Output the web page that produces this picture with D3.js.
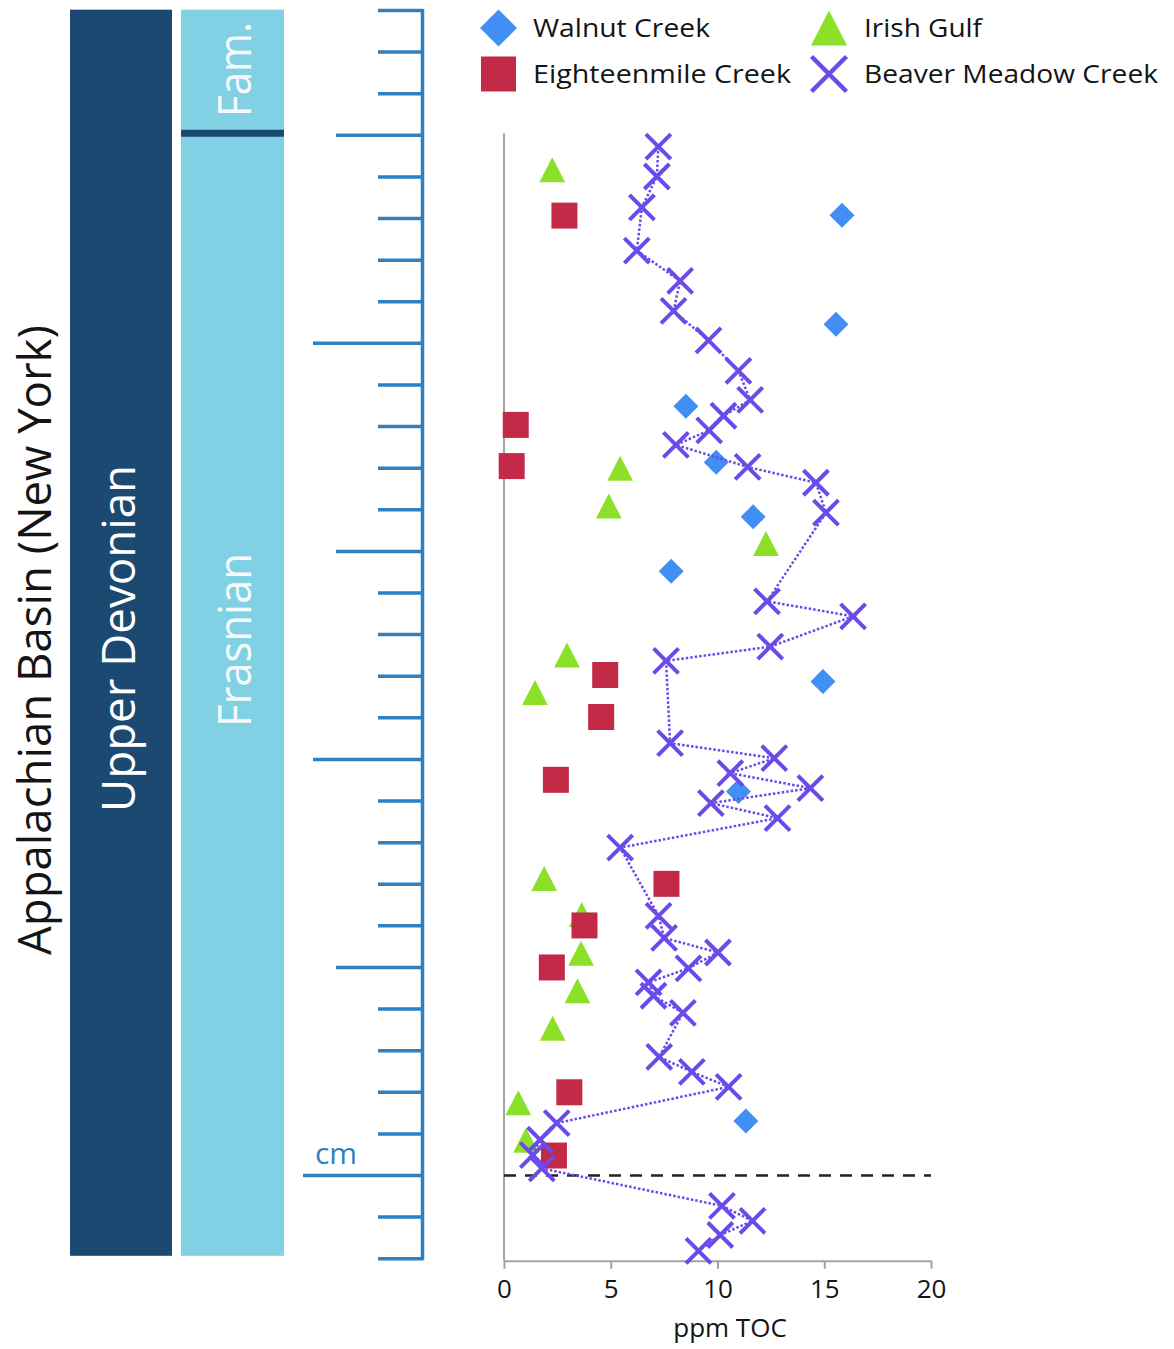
<!DOCTYPE html>
<html>
<head>
<meta charset="utf-8">
<script src="https://cdn.jsdelivr.net/npm/d3@7"></script>
<style>
  html, body { margin: 0; padding: 0; background: #fff; }
  svg { display: block; font-family: "Open Sans", "Noto Sans", sans-serif; }
</style>
</head>
<body>
<svg id="chart" width="1174" height="1349"></svg>
<script>
// ---- Data -------------------------------------------------------------
// Horizontal axis (ppm TOC)
const tocTicks = [0, 5, 10, 15, 20];
const tocLabel = "ppm TOC";

// Stratigraphic height (cm) above the datum (dashed line)
const rulerTicks = d3.range(-2, 29);

// Walnut Creek
const walnutToc    = [15.83, 15.55, 8.52, 9.94, 11.67, 7.83, 14.94, 10.98, 11.33];
const walnutHeight = [23.08, 20.46, 18.49, 17.14, 15.83, 14.52, 11.87, 9.23, 1.31];

// Eighteenmile Creek
const eighteenToc    = [2.83, 0.55, 0.36, 4.74, 4.55, 2.43, 7.61, 3.77, 2.24, 3.06, 2.34];
const eighteenHeight = [23.07, 18.04, 17.05, 12.03, 11.02, 9.51, 7.01, 6.01, 5.00, 2.00, 0.48];

// Irish Gulf
const irishToc    = [2.26, 5.44, 4.91, 12.27, 2.95, 1.45, 1.88, 3.64, 3.61, 3.44, 2.28, 0.67, 1.03];
const irishHeight = [24.17, 17.00, 16.09, 15.19, 12.51, 11.61, 7.14, 6.27, 5.34, 4.44, 3.54, 1.75, 0.85];

// Beaver Meadow Creek (top to bottom, joined by a dotted line)
const beaverToc = [7.23, 7.16, 6.46, 6.22, 8.25, 7.94, 9.58, 10.98, 11.53, 10.28, 9.61, 8.05,
                   11.41, 14.61, 15.08, 12.32, 16.35, 12.47, 7.59, 7.78, 12.66, 10.60, 14.35,
                   9.69, 12.81, 5.44, 7.24, 7.50, 10.02, 8.64, 6.77, 7.00, 8.38, 7.27, 8.80,
                   10.52, 2.47, 1.69, 1.35, 1.77, 10.21, 11.64, 10.13, 9.11];
const beaverHeight = [24.73, 24.01, 23.27, 22.23, 21.50, 20.78, 20.07, 19.34, 18.64, 18.26, 17.91, 17.56,
                      17.03, 16.65, 15.93, 13.80, 13.44, 12.71, 12.37, 10.39, 10.03, 9.67, 9.31,
                      8.95, 8.59, 7.88, 6.24, 5.71, 5.36, 4.98, 4.64, 4.32, 3.91, 2.85, 2.49,
                      2.13, 1.26, 0.86, 0.49, 0.17, -0.73, -1.09, -1.43, -1.81];

const seriesNames = ["Walnut Creek", "Eighteenmile Creek", "Irish Gulf", "Beaver Meadow Creek"];

// Chronostratigraphic columns
const columnTitle = "Appalachian Basin (New York)";
const seriesUnit  = "Upper Devonian";
const stageUpper  = "Fam.";
const stageLower  = "Frasnian";
const stageBoundary = 25;   // Famennian / Frasnian boundary height
const heightUnit = "cm";

// ---- Styling ----------------------------------------------------------
const C = {
  navy: "#1c4971",
  sky: "#82d0e3",
  ruler: "#2f80c0",
  axis: "#a3a3a3",
  text: "#141414",
  walnut: "#418ff4",
  eighteen: "#c22a48",
  irish: "#8ce02a",
  beaver: "#6a4bea"
};

const svg = d3.select("#chart");

const x = d3.scaleLinear().domain([0, 20]).range([504, 931]);
const y = d3.scaleLinear().domain([0, 28]).range([1175.5, 10.5]);
const axisBottomY = y(-2.05);

const zip = (a, b) => a.map((v, i) => ({ toc: v, h: b[i] }));
const walnut = zip(walnutToc, walnutHeight);
const eighteen = zip(eighteenToc, eighteenHeight);
const irish = zip(irishToc, irishHeight);
const beaver = zip(beaverToc, beaverHeight);

// marker shapes (centred on 0,0)
const shapes = {
  diamond: s => `M0,${-s}L${s},0L0,${s}L${-s},0Z`,
  square: s => `M${-s},${-s}H${s}V${s}H${-s}Z`,
  triangle: s => `M0,${-s}L${s * 1.03},${s}L${-s * 1.03},${s}Z`,
  cross: s => `M${-s},${-s}L${s},${s}M${s},${-s}L${-s},${s}`
};

// ---- Left columns -----------------------------------------------------
const colTop = y(28.02), colBottom = y(-1.93);
svg.append("rect").attr("x", 70).attr("y", colTop).attr("width", 102)
  .attr("height", colBottom - colTop).attr("fill", C.navy);
svg.append("rect").attr("x", 181).attr("y", colTop).attr("width", 103)
  .attr("height", colBottom - colTop).attr("fill", C.sky);
svg.append("line").attr("x1", 181).attr("x2", 284)
  .attr("y1", y(stageBoundary) - 2).attr("y2", y(stageBoundary) - 2)
  .attr("stroke", C.navy).attr("stroke-width", 7);

function vText(txt, bx, cy, size, len, fill) {
  svg.append("text")
    .attr("transform", `translate(${bx},${cy}) rotate(-90)`)
    .attr("text-anchor", "middle")
    .attr("font-size", size)
    .attr("textLength", len)
    .attr("lengthAdjust", "spacingAndGlyphs")
    .attr("fill", fill)
    .text(txt);
}
vText(columnTitle, 51, 640, 46, 630, C.text);
vText(seriesUnit, 135, 638.5, 46, 347, "#ffffff");
vText(stageLower, 251, 640, 46, 174, "#f4fbfd");
vText(stageUpper, 251, 69.5, 46, 95, "#f4fbfd");

// ---- Height ruler -----------------------------------------------------
const rulerX = 422.5;
const ruler = svg.append("g").attr("stroke", C.ruler).attr("stroke-width", 3.5);
ruler.append("line").attr("x1", rulerX).attr("x2", rulerX)
  .attr("y1", y(28) - 1.5).attr("y2", y(-2) + 1.5);
ruler.selectAll("line.tick").data(rulerTicks).join("line")
  .attr("class", "tick")
  .attr("x1", d => d === 0 ? 303 : d % 10 === 0 ? 313 : d % 5 === 0 ? 336 : 378)
  .attr("x2", rulerX)
  .attr("y1", d => y(d)).attr("y2", d => y(d));
svg.append("text").attr("x", 315).attr("y", y(0) - 12)
  .attr("font-size", 30).attr("fill", C.ruler).text(heightUnit);

// ---- Axes -------------------------------------------------------------
svg.append("line").attr("x1", x(0)).attr("x2", x(0))
  .attr("y1", y(stageBoundary) - 2).attr("y2", axisBottomY)
  .attr("stroke", C.axis).attr("stroke-width", 2);

const xAxis = svg.append("g").attr("transform", `translate(0,${axisBottomY})`)
  .call(d3.axisBottom(x).tickValues(tocTicks).tickSize(8).tickSizeOuter(0).tickPadding(11));
xAxis.select(".domain").attr("stroke", C.axis).attr("stroke-width", 2);
xAxis.selectAll(".tick line").attr("stroke", C.axis).attr("stroke-width", 2);
xAxis.selectAll(".tick text").attr("font-size", 26).attr("fill", C.text)
  .attr("font-family", "\"Open Sans\", sans-serif");

svg.append("text").attr("x", 730).attr("y", 1337).attr("text-anchor", "middle")
  .attr("font-size", 26).attr("fill", C.text).text(tocLabel);

// datum
svg.append("line").attr("x1", x(0)).attr("x2", x(20))
  .attr("y1", y(0)).attr("y2", y(0))
  .attr("stroke", "#222").attr("stroke-width", 2.5).attr("stroke-dasharray", "12,9");

// ---- Marks ------------------------------------------------------------
const plot = svg.append("g");

plot.append("g").selectAll("path").data(irish).join("path")
  .attr("transform", d => `translate(${x(d.toc)},${y(d.h)})`)
  .attr("d", shapes.triangle(12.5)).attr("fill", C.irish);

plot.append("g").selectAll("path").data(eighteen).join("path")
  .attr("transform", d => `translate(${x(d.toc)},${y(d.h)})`)
  .attr("d", shapes.square(13)).attr("fill", C.eighteen);

plot.append("g").selectAll("path").data(walnut).join("path")
  .attr("transform", d => `translate(${x(d.toc)},${y(d.h)})`)
  .attr("d", shapes.diamond(12.5)).attr("fill", C.walnut);

plot.append("path").datum(beaver)
  .attr("d", d3.line().x(d => x(d.toc)).y(d => y(d.h)))
  .attr("fill", "none").attr("stroke", C.beaver)
  .attr("stroke-width", 2.5).attr("stroke-dasharray", "2.5,2");

plot.append("g").selectAll("path").data(beaver).join("path")
  .attr("transform", d => `translate(${x(d.toc)},${y(d.h)})`)
  .attr("d", shapes.cross(12.5)).attr("fill", "none")
  .attr("stroke", C.beaver).attr("stroke-width", 4);

// ---- Legend -----------------------------------------------------------
const legendItems = [
  { name: seriesNames[0], shape: "diamond", size: 18.5, color: C.walnut, mx: 498.5, my: 28, tx: 533, ty: 37, len: 177 },
  { name: seriesNames[1], shape: "square", size: 17.5, color: C.eighteen, mx: 498.5, my: 74, tx: 533, ty: 82.5, len: 258 },
  { name: seriesNames[2], shape: "triangle", size: 17.5, color: C.irish, mx: 829, my: 28, tx: 864, ty: 37, len: 118 },
  { name: seriesNames[3], shape: "cross", size: 17.5, color: C.beaver, mx: 829, my: 74, tx: 864, ty: 82.5, len: 294 }
];
const legend = svg.append("g");
legendItems.forEach(it => {
  const m = legend.append("path")
    .attr("transform", `translate(${it.mx},${it.my})`)
    .attr("d", shapes[it.shape](it.size));
  if (it.shape === "cross") m.attr("fill", "none").attr("stroke", it.color).attr("stroke-width", 4.5);
  else m.attr("fill", it.color);
  legend.append("text").attr("x", it.tx).attr("y", it.ty)
    .attr("font-size", 26).attr("fill", C.text)
    .attr("textLength", it.len).attr("lengthAdjust", "spacingAndGlyphs")
    .text(it.name);
});
</script>
</body>
</html>
